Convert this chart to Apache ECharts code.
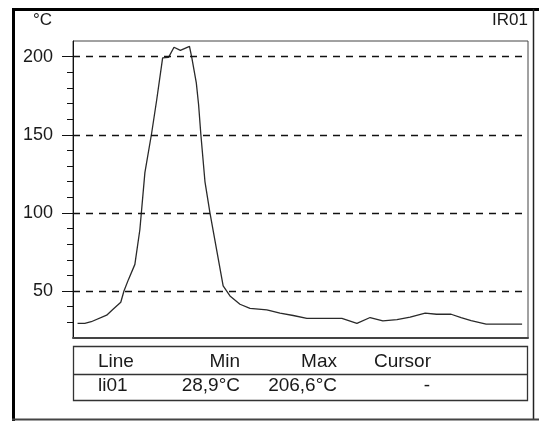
<!DOCTYPE html>
<html lang="en">

<head>
    <meta charset="UTF-8">
    <title>IR01</title>
    <script src="https://cdn.jsdelivr.net/npm/echarts@6/dist/echarts.min.js"></script>
    <style>
        html,
        body {
            margin: 0;
            padding: 0;
            background: #fff;
        }

        #main {
            width: 539px;
            height: 421px;
        }
    </style>
</head>

<body>
    <div id="main"></div>
    <script type="text/javascript">
        // profile position along the line (0..100) and temperature in °C
        var posX = [1.0, 2.6, 4.0, 7.4, 8.8, 10.5, 11.2, 12.2, 13.6, 14.7, 15.8, 17.3, 18.4, 19.7, 21.0, 22.2, 23.6, 25.6, 26.1,
            27.1, 27.6, 28.1, 29.0, 30.1, 33.0, 34.5, 36.7, 38.9, 42.6, 45.5, 48.4, 51.4, 59.1, 62.4, 65.3, 68.1, 71.2, 74.1,
            77.4, 79.9, 83.1, 85.3, 87.5, 90.8, 98.7
        ];
        var tempC = [29.3, 29.4, 30.4, 34.6, 38.4, 42.9, 50.1, 57.5, 67.1, 89.4, 125.8, 151.3, 172.4, 199.2, 199.5, 206.0, 204.0, 206.6, 199.5,
            183.2, 169.4, 150.2, 120.1, 100.1, 53.3, 46.9, 41.6, 38.9, 38.0, 35.9, 34.4, 32.5, 32.5, 29.3, 33.1, 31.0, 31.8, 33.3,
            35.9, 35.2, 35.2, 33.0, 31.1, 28.9, 28.9
        ];
        var majorTicks = [50, 100, 150, 200];
        var minorTicks = [30, 40, 60, 70, 80, 90, 110, 120, 130, 140, 160, 170, 180, 190];
        var tableHead = ['Line', 'Min', 'Max', 'Cursor'];
        var tableRow = ['li01', '28,9°C', '206,6°C', '-'];

        var font = 'Liberation Sans, Arial, sans-serif';

        var seriesData = posX.map(function(x, i) {
            return [x, tempC[i]];
        });

        // table cells: x position and alignment per column
        var colX = [98, 240, 337, 374];
        var colAlign = ['left', 'right', 'right', 'left'];
        var tableTexts = [];
        tableHead.forEach(function(t, i) {
            tableTexts.push({
                type: 'text',
                style: { x: colX[i], y: 362, text: t, textAlign: colAlign[i], textVerticalAlign: 'middle', font: '19px ' + font, fill: '#1a1a1a' }
            });
        });
        tableRow.forEach(function(t, i) {
            var isCursor = i === 3;
            tableTexts.push({
                type: 'text',
                style: {
                    x: isCursor ? 427 : colX[i],
                    y: 386,
                    text: t,
                    textAlign: isCursor ? 'center' : colAlign[i],
                    textVerticalAlign: 'middle',
                    font: '19px ' + font,
                    fill: '#1a1a1a'
                }
            });
        });

        var myChart = echarts.init(document.getElementById('main'));
        var option = {
            animation: false,
            backgroundColor: '#fff',
            grid: {
                left: 73,
                top: 41,
                right: 11,
                bottom: 83,
                show: true,
                borderColor: '#444',
                borderWidth: 1
            },
            xAxis: {
                type: 'value',
                min: 0,
                max: 100,
                axisLine: { show: true, lineStyle: { color: '#444', width: 2 } },
                axisTick: { show: false },
                axisLabel: { show: false },
                splitLine: { show: false }
            },
            yAxis: [{
                type: 'value',
                min: 20,
                max: 210,
                position: 'left',
                axisLine: { show: true, lineStyle: { color: '#111', width: 1 } },
                axisTick: { show: true, length: 6, customValues: minorTicks, lineStyle: { color: '#111' } },
                axisLabel: { customValues: majorTicks, margin: 20, fontSize: 18, fontFamily: font, color: '#1a1a1a' },
                splitLine: { show: false }
            }, {
                type: 'value',
                min: 20,
                max: 210,
                position: 'left',
                axisLine: { show: false },
                axisTick: { show: true, length: 11, customValues: majorTicks, lineStyle: { color: '#111' } },
                axisLabel: { show: false },
                splitLine: { show: false }
            }],
            series: [{
                type: 'line',
                data: seriesData,
                showSymbol: false,
                lineStyle: { color: '#2a2a2a', width: 1.3 },
                markLine: {
                    silent: true,
                    symbol: 'none',
                    label: { show: false },
                    lineStyle: { color: '#111', width: 1.4, type: [7, 6] },
                    data: majorTicks.map(function(v) {
                        return { yAxis: v };
                    })
                }
            }],
            graphic: [
                // outer frame
                { type: 'line', shape: { x1: 12, y1: 9.5, x2: 539, y2: 9.5 }, style: { stroke: '#000', lineWidth: 3 } },
                { type: 'line', shape: { x1: 13.5, y1: 8, x2: 13.5, y2: 421 }, style: { stroke: '#000', lineWidth: 3 } },
                { type: 'line', shape: { x1: 533.5, y1: 9, x2: 533.5, y2: 420 }, style: { stroke: '#222', lineWidth: 1.5 } },
                { type: 'line', shape: { x1: 12, y1: 419.5, x2: 539, y2: 419.5 }, style: { stroke: '#444', lineWidth: 2 } },
                // unit and probe name
                { type: 'text', style: { x: 33, y: 20, text: '°C', textVerticalAlign: 'middle', font: '17px ' + font, fill: '#1a1a1a' } },
                { type: 'text', style: { x: 528, y: 20, text: 'IR01', textAlign: 'right', textVerticalAlign: 'middle', font: '17px ' + font, fill: '#1a1a1a' } },
                // table
                { type: 'rect', shape: { x: 73.5, y: 346.5, width: 454, height: 54 }, style: { fill: 'none', stroke: '#333', lineWidth: 1.3 } },
                { type: 'line', shape: { x1: 73.5, y1: 374.5, x2: 527.5, y2: 374.5 }, style: { stroke: '#333', lineWidth: 1.3 } }
            ].concat(tableTexts)
        };
        myChart.setOption(option);
    </script>

</body>

</html>
